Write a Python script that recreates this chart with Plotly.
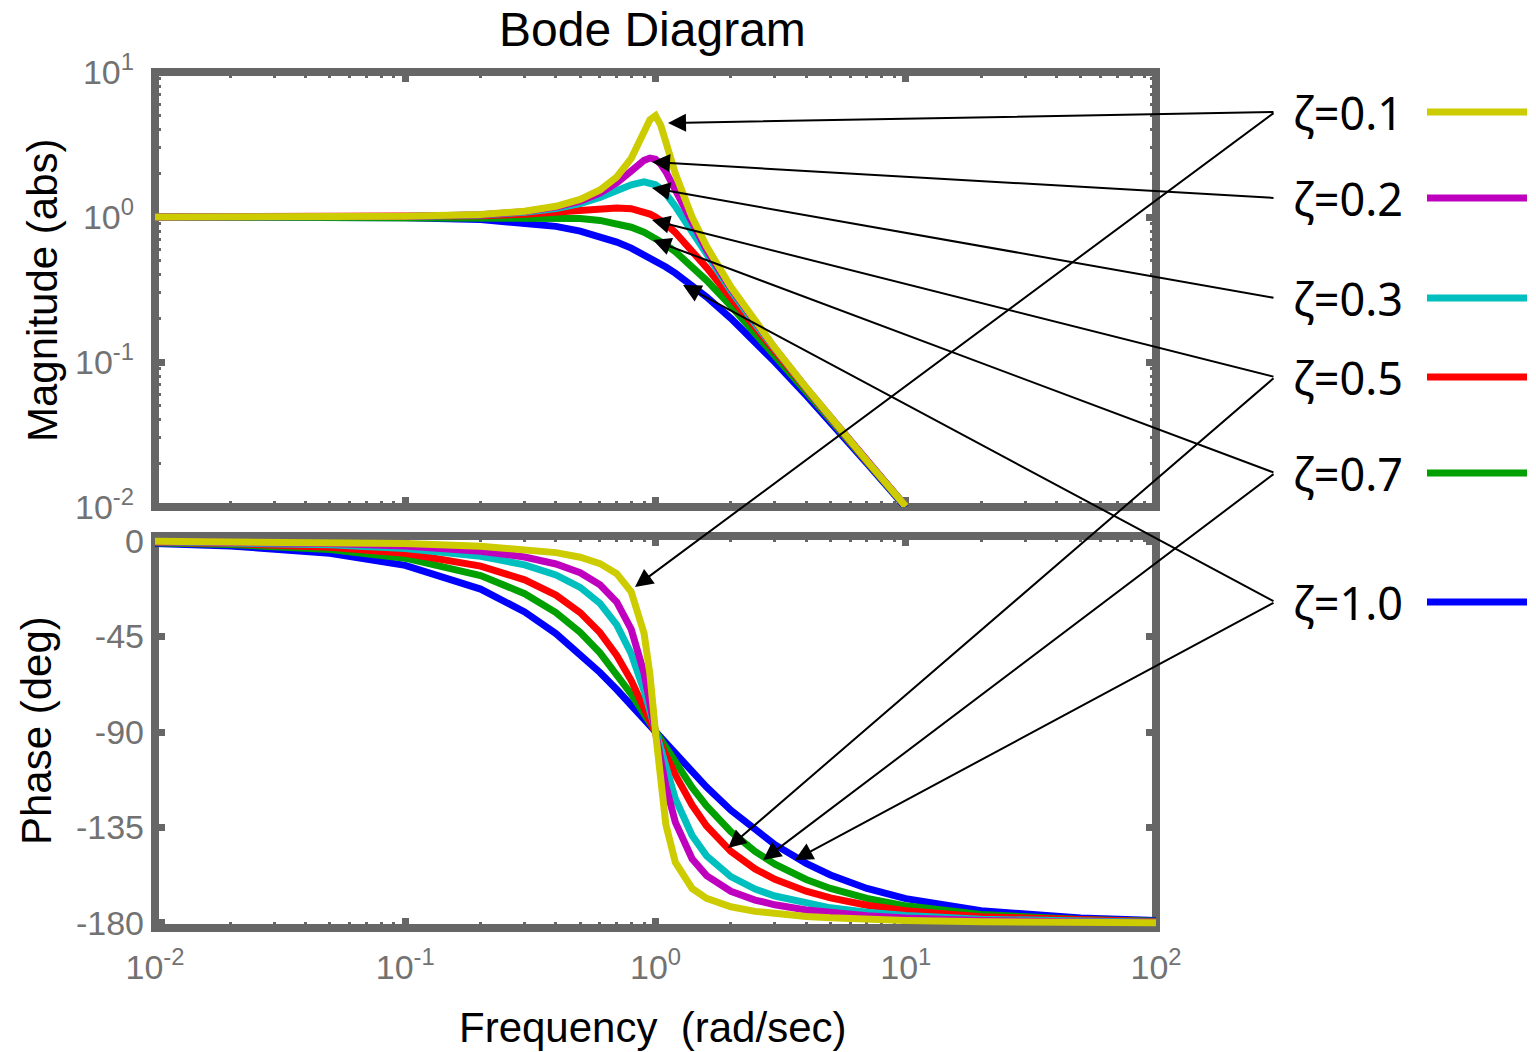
import plotly.graph_objects as go

# ---------------------------------------------------------------------------
# Frequency samples (rad/sec) and Bode data for a 2nd-order system
# ---------------------------------------------------------------------------
FREQ = [0.01, 0.02, 0.05, 0.1, 0.2, 0.3, 0.4, 0.5, 0.6, 0.7, 0.8, 0.9, 0.95,
        1.0, 1.05, 1.1, 1.2, 1.4, 1.6, 2.0, 2.5, 3.0, 4.0, 5.0, 7.0, 10.0,
        20.0, 50.0, 100.0]

ZETA_LABELS = ["ζ=0.1", "ζ=0.2", "ζ=0.3", "ζ=0.5", "ζ=0.7", "ζ=1.0"]
COLORS = ["#cccc00", "#bf00bf", "#00bfbf", "#ff0000", "#00a000", "#0000ff"]

# magnitude (abs), sampled from 0.01 to 10 rad/sec
MAG_Z01 = [1.000, 1.000, 1.003, 1.010, 1.041, 1.097, 1.185, 1.322, 1.536, 1.890, 2.538, 3.821, 4.683,
           5.000, 4.279, 3.288, 1.995, 1.000, 0.628, 0.330, 0.190, 0.125, 0.0666, 0.0416, 0.0208, 0.0101]
MAG_Z02 = [1.000, 1.000, 1.002, 1.009, 1.038, 1.089, 1.169, 1.288, 1.463, 1.719, 2.076, 2.457, 2.549,
           2.500, 2.313, 2.051, 1.536, 0.900, 0.593, 0.322, 0.187, 0.124, 0.0663, 0.0415, 0.0208, 0.0101]
MAG_Z03 = [1.000, 1.000, 1.002, 1.008, 1.034, 1.078, 1.145, 1.238, 1.362, 1.514, 1.667, 1.747, 1.729,
           1.667, 1.567, 1.444, 1.185, 0.784, 0.546, 0.310, 0.183, 0.122, 0.0658, 0.0413, 0.0208, 0.0101]
MAG_Z05 = [1.000, 1.000, 1.001, 1.005, 1.020, 1.044, 1.075, 1.109, 1.140, 1.155, 1.140, 1.087, 1.047,
           1.000, 0.948, 0.893, 0.782, 0.589, 0.448, 0.277, 0.172, 0.117, 0.0644, 0.0408, 0.0206, 0.0101]
MAG_Z07 = [1.000, 1.000, 1.000, 1.000, 1.000, 0.998, 0.991, 0.975, 0.947, 0.905, 0.850, 0.785, 0.750,
           0.714, 0.679, 0.643, 0.576, 0.458, 0.366, 0.244, 0.159, 0.111, 0.0625, 0.0400, 0.0204, 0.0100]
MAG_Z10 = [1.000, 1.000, 0.998, 0.990, 0.962, 0.917, 0.862, 0.800, 0.735, 0.671, 0.610, 0.552, 0.526,
           0.500, 0.476, 0.452, 0.410, 0.338, 0.281, 0.200, 0.138, 0.100, 0.0588, 0.0385, 0.0200, 0.0099]

# phase (deg), sampled from 0.01 to 100 rad/sec
PH_Z01 = [-0.11, -0.23, -0.57, -1.16, -2.39, -3.77, -5.44, -7.59, -10.62, -15.35, -23.96, -43.45, -62.83,
          -90.0, -116.02, -133.67, -151.39, -163.74, -168.41, -172.41, -174.56, -175.71, -176.95, -177.61,
          -178.33, -178.84, -179.43, -179.77, -179.89]
PH_Z02 = [-0.23, -0.46, -1.15, -2.31, -4.76, -7.51, -10.78, -14.93, -20.56, -28.77, -41.63, -62.18, -75.61,
          -90.0, -103.71, -115.51, -132.51, -149.74, -157.69, -165.07, -169.22, -171.47, -173.91, -175.24,
          -176.66, -177.69, -178.85, -179.54, -179.77]
PH_Z03 = [-0.34, -0.69, -1.72, -3.47, -7.13, -11.19, -15.95, -21.80, -29.36, -39.47, -53.13, -70.62, -80.29,
          -90.0, -99.24, -107.65, -121.43, -138.81, -148.39, -158.20, -164.05, -167.32, -170.91, -172.88,
          -175.00, -176.53, -178.28, -179.31, -179.66]
PH_Z05 = [-0.57, -1.15, -2.87, -5.77, -11.77, -18.25, -25.46, -33.69, -43.15, -53.93, -65.77, -78.08, -84.14,
          -90.0, -95.58, -100.81, -110.14, -124.44, -134.27, -146.31, -154.54, -159.44, -165.07, -168.23,
          -171.70, -174.23, -177.13, -178.85, -179.43]
PH_Z07 = [-0.80, -1.60, -4.01, -8.05, -16.26, -24.78, -33.69, -43.03, -52.70, -62.51, -72.18, -81.42, -85.81,
          -90.0, -93.99, -97.77, -104.68, -116.09, -124.86, -136.97, -146.31, -152.30, -159.53, -163.74,
          -168.46, -171.95, -175.99, -178.40, -179.20]
PH_Z10 = [-1.15, -2.29, -5.73, -11.42, -22.62, -33.40, -43.60, -53.13, -61.93, -69.98, -77.32, -83.97, -87.06,
          -90.0, -92.79, -95.45, -100.39, -108.92, -115.99, -126.87, -136.40, -143.13, -151.93, -157.38,
          -163.74, -168.58, -174.28, -177.71, -178.85]

MAGNITUDES = [MAG_Z01, MAG_Z02, MAG_Z03, MAG_Z05, MAG_Z07, MAG_Z10]
PHASES = [PH_Z01, PH_Z02, PH_Z03, PH_Z05, PH_Z07, PH_Z10]

# arrow heads pointing at each curve: (log10 freq, log10 magnitude) / (log10 freq, phase deg)
MAG_ARROW_TIPS = [(0.050, 0.648), (-0.014, 0.379), (-0.014, 0.200),
                  (-0.014, -0.021), (-0.010, -0.159), (0.110, -0.469)]
PH_ARROW_TIPS = [(-0.082, -21.6), None, None,
                 (0.290, -144.7), (0.430, -150.3), (0.557, -150.3)]

# tick labels
X_TICKS = [0.01, 0.1, 1, 10, 100]
X_TICKTEXT = ["10<sup>-2</sup>", "10<sup>-1</sup>", "10<sup>0</sup>", "10<sup>1</sup>", "10<sup>2</sup>"]
MAG_TICKS = [0.01, 0.1, 1, 10]
MAG_TICKTEXT = ["10<sup>-2</sup>", "10<sup>-1</sup>", "10<sup>0</sup>", "10<sup>1</sup>"]
PH_TICKS = [0, -45, -90, -135, -180]
PH_TICKTEXT = ["0", "-45", "-90", "-135", "-180"]

# ---------------------------------------------------------------------------
# Page geometry (pixels)
# ---------------------------------------------------------------------------
W, H = 1536, 1052
X_LEFT, X_RIGHT = 155, 1156
MAG_TOP, MAG_BOT = 72, 507
PH_TOP, PH_BOT = 536, 928
X_RANGE = [-2, 2]
MAG_RANGE = [-2, 1]
PH_RANGE = [-182.4, 2.4]

LABEL_Y = [112, 198, 298, 377, 473, 602]   # row centres of the ζ labels
ARROW_TAIL_X = 1275
LABEL_X = 1291
KEY_X0, KEY_X1 = 1427, 1527

GRAY = "#666666"
TICK_GRAY = "#727272"
FONT = "Liberation Sans"


def px(p):
    return p / W


def py(p):
    return 1 - p / H


def x_axis_val(p):
    return X_RANGE[0] + (p - X_LEFT) / (X_RIGHT - X_LEFT) * (X_RANGE[1] - X_RANGE[0])


def mag_axis_val(p):
    return MAG_RANGE[1] - (p - MAG_TOP) / (MAG_BOT - MAG_TOP) * (MAG_RANGE[1] - MAG_RANGE[0])


def ph_axis_val(p):
    return PH_RANGE[1] - (p - PH_TOP) / (PH_BOT - PH_TOP) * (PH_RANGE[1] - PH_RANGE[0])


def decade_minors(lo_exp, hi_exp):
    vals = []
    for e in range(lo_exp, hi_exp):
        for m in range(2, 10):
            vals.append(m * 10.0 ** e)
    return vals


fig = go.Figure()

# draw heavily damped first so the resonant curves sit on top
for i in reversed(range(len(ZETA_LABELS))):
    mag = MAGNITUDES[i]
    fig.add_trace(go.Scatter(
        x=FREQ[:len(mag)], y=mag, xaxis="x", yaxis="y", mode="lines",
        line=dict(color=COLORS[i], width=7), name=ZETA_LABELS[i],
        showlegend=False, hoverinfo="skip"))
for i in reversed(range(len(ZETA_LABELS))):
    fig.add_trace(go.Scatter(
        x=FREQ, y=PHASES[i], xaxis="x2", yaxis="y2", mode="lines",
        line=dict(color=COLORS[i], width=7), name=ZETA_LABELS[i],
        showlegend=False, hoverinfo="skip"))

x_dom = [px(X_LEFT), px(X_RIGHT)]
tick_font = dict(family=FONT, size=34, color=TICK_GRAY)
common_x = dict(
    type="log", range=X_RANGE, domain=x_dom, showgrid=False, zeroline=False,
    ticks="inside", ticklen=10, tickwidth=7, tickcolor=GRAY, mirror="ticks",
    showline=False, layer="below traces", automargin=False,
    tickmode="array", tickvals=X_TICKS, ticktext=X_TICKTEXT, tickfont=tick_font,
    minor=dict(ticks="inside", ticklen=6, tickwidth=3, tickcolor=GRAY,
               tickmode="array", tickvals=decade_minors(-2, 2), showgrid=False),
)

fig.update_layout(
    width=W, height=H, autosize=False,
    margin=dict(l=0, r=0, t=0, b=0, pad=0, autoexpand=False),
    paper_bgcolor="white", plot_bgcolor="white", showlegend=False,
    hovermode=False,
    xaxis=dict(common_x, anchor="y", showticklabels=False),
    xaxis2=dict(common_x, anchor="y2", showticklabels=True, ticklabelstandoff=16),
    yaxis=dict(
        type="log", range=MAG_RANGE, domain=[py(MAG_BOT), py(MAG_TOP)], anchor="x",
        showgrid=False, zeroline=False, ticks="inside", ticklen=10, tickwidth=7,
        tickcolor=GRAY, mirror="ticks", showline=False, layer="below traces",
        automargin=False,
        tickmode="array", tickvals=MAG_TICKS, ticktext=MAG_TICKTEXT, tickfont=tick_font,
        ticklabelstandoff=20,
        minor=dict(ticks="inside", ticklen=6, tickwidth=3, tickcolor=GRAY,
                   tickmode="array", tickvals=decade_minors(-2, 1), showgrid=False),
    ),
    yaxis2=dict(
        range=PH_RANGE, domain=[py(PH_BOT), py(PH_TOP)], anchor="x2",
        showgrid=False, zeroline=False, ticks="inside", ticklen=10, tickwidth=7,
        tickcolor=GRAY, mirror="ticks", showline=False, layer="below traces",
        automargin=False,
        tickmode="array", tickvals=PH_TICKS, ticktext=PH_TICKTEXT, tickfont=tick_font,
        ticklabelstandoff=10,
    ),
)

# heavy gray frames around both panels
shapes = []
for xr, yr in (("x domain", "y domain"), ("x2 domain", "y2 domain")):
    shapes.append(dict(type="rect", xref=xr, yref=yr, x0=0, x1=1, y0=0, y1=1,
                       line=dict(color=GRAY, width=8), layer="below"))
# colour keys next to the ζ labels
for i, ly in enumerate(LABEL_Y):
    shapes.append(dict(type="line", xref="paper", yref="paper",
                       x0=px(KEY_X0), x1=px(KEY_X1), y0=py(ly), y1=py(ly),
                       line=dict(color=COLORS[i], width=7), layer="above"))

annotations = []
# titles
annotations.append(dict(text="Bode Diagram", x=px(652), y=py(30), xref="paper", yref="paper",
                        showarrow=False, xanchor="center", yanchor="middle",
                        font=dict(family=FONT, size=48, color="black")))
annotations.append(dict(text="Magnitude (abs)", x=px(43), y=py(290), xref="paper", yref="paper",
                        showarrow=False, textangle=-90, xanchor="center", yanchor="middle",
                        font=dict(family=FONT, size=42, color="black")))
annotations.append(dict(text="Phase (deg)", x=px(36), y=py(731), xref="paper", yref="paper",
                        showarrow=False, textangle=-90, xanchor="center", yanchor="middle",
                        font=dict(family=FONT, size=42, color="black")))
annotations.append(dict(text="Frequency\u00a0\u00a0(rad/sec)", x=px(652), y=py(1027),
                        xref="paper", yref="paper", showarrow=False,
                        xanchor="center", yanchor="middle",
                        font=dict(family=FONT, size=42, color="black")))

# ζ labels and their pointer arrows
tail_x = x_axis_val(ARROW_TAIL_X)
for i, ly in enumerate(LABEL_Y):
    annotations.append(dict(text=ZETA_LABELS[i], x=px(LABEL_X), y=py(ly), xref="paper", yref="paper",
                            showarrow=False, xanchor="left", yanchor="middle",
                            font=dict(family="Noto Sans", size=45, color="black")))
    tx, ty = MAG_ARROW_TIPS[i]
    annotations.append(dict(text="", x=tx, y=ty, xref="x", yref="y",
                            ax=tail_x, ay=mag_axis_val(ly), axref="x", ayref="y",
                            showarrow=True, arrowhead=2, arrowsize=1.8, arrowwidth=2,
                            arrowcolor="black", standoff=0))
    if PH_ARROW_TIPS[i] is not None:
        tx, ty = PH_ARROW_TIPS[i]
        annotations.append(dict(text="", x=tx, y=ty, xref="x2", yref="y2",
                                ax=tail_x, ay=ph_axis_val(ly), axref="x2", ayref="y2",
                                showarrow=True, arrowhead=2, arrowsize=1.8, arrowwidth=2,
                                arrowcolor="black", standoff=0))

fig.update_layout(shapes=shapes, annotations=annotations)

fig.write_html("out.html")
